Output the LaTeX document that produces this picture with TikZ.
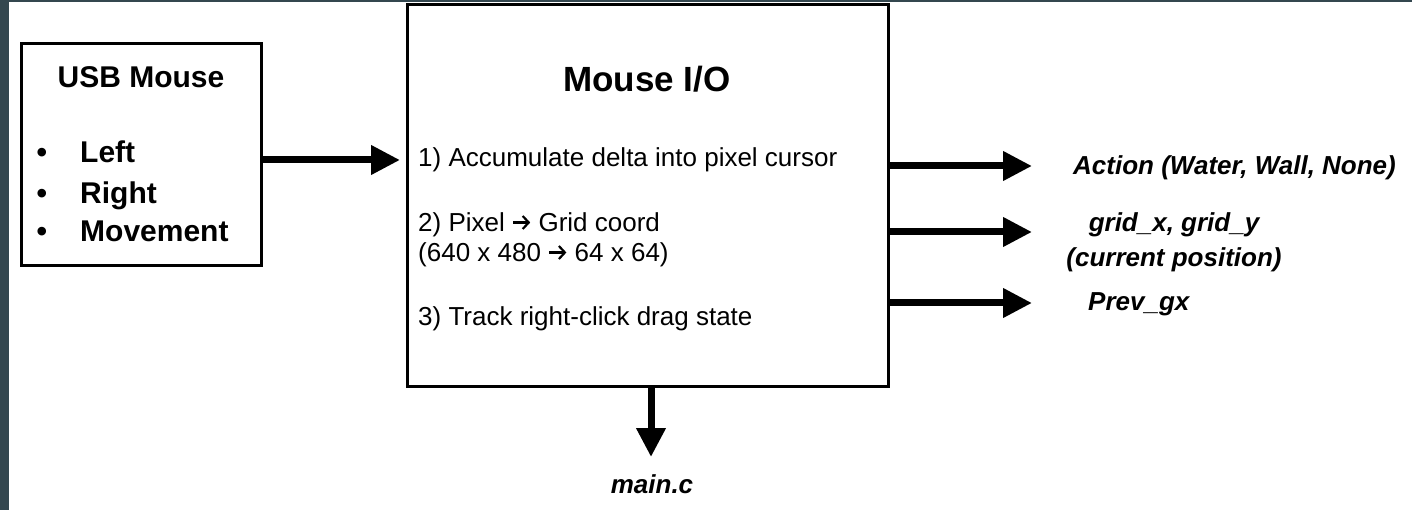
\documentclass[tikz,border=0pt]{standalone}
\usepackage{fontspec}
\setmainfont{Liberation Sans}
\usetikzlibrary{arrows.meta, positioning}
\definecolor{slate}{HTML}{34474F}
% small inline arrow used inside the step texts
\newcommand{\tto}{\tikz[baseline=-9.5pt, x=1pt, y=1pt, line width=2.2pt]
    \draw[-{Straight Barb[length=6pt, width=13pt]}] (0,0) -- (17,0);}

\begin{document}
\begin{tikzpicture}[
                x = 1pt, y = -1pt, % one unit per pixel, y runs down
                > = {Triangle[length=29pt, width=28pt]}, % arrow head style
                flow/.style = {->, line width=7pt},
                box/.style = {draw, line width=3pt, inner sep=0pt},
                heading/.style = {font=\fontsize{30}{36}\selectfont\bfseries,
                    anchor=base, inner sep=0pt},
                item/.style = {font=\fontsize{30}{36}\selectfont\bfseries,
                    anchor=base west, inner sep=0pt},
                task/.style = {font=\fontsize{26}{30}\selectfont,
                    anchor=base west, inner sep=0pt},
                signal/.style = {font=\fontsize{26}{30}\selectfont\bfseries\itshape,
                    inner sep=0pt}
                ]
                % page and dark edge
                \fill[white] (0,0) rectangle (1412,510);
                \fill[slate] (0,0) rectangle (9,510);
                \fill[slate] (0,0) rectangle (1412,2.5);
                \useasboundingbox (0,0) rectangle (1412,510);

                \node[box, minimum width=240pt, minimum height=222pt] (usb) at (141,155) {};
                \node[box, minimum width=481pt, minimum height=381pt] (mio) at (647.5,195.5) {};

                % input device
                \node[heading] (usbtitle) at (141,88) {USB Mouse};
                \foreach \name/\txt/\yy in {left/Left/163, right/Right/204, move/Movement/242} {
                    \node[item] (\name) at (80,\yy) {\txt};
                    \node[item, anchor=base] (\name-dot) at (42,\yy) {•};
                }

                % processing steps
                \node[heading, font=\fontsize{35}{40}\selectfont\bfseries] (miotitle) at (647,92) {Mouse I/O};
                \node[task] (acc) at (418,167) {1) Accumulate delta into pixel cursor};
                \node[task] (pix) at (418,232) {2) Pixel \tto{} Grid coord};
                \node[task] (res) [below=30pt of pix.base west, anchor=base west] {(640 x 480 \tto{} 64 x 64)};
                \node[task] (drag) at (418,325) {3) Track right-click drag state};

                % outputs
                \node[signal, anchor=base west] (action) at (1073,175) {Action (Water, Wall, None)};
                \node[signal, anchor=base] (grid) at (1174,232) {grid\_x, grid\_y};
                \node[signal, anchor=base] (pos) [below=35pt of grid.base, anchor=base] {(current position)};
                \node[signal, anchor=base west] (prev) at (1088,310) {Prev\_gx};
                \node[signal, anchor=base] (mainc) at (652,493) {main.c};

                \coordinate (in) at (400,160);
                \coordinate (out1) at (1032,166);
                \coordinate (out2) at (1032,232);
                \coordinate (out3) at (1032,303);
                \coordinate (down) at (651,457);

                \draw[flow] (usb.east |- in) -- (in);
                \foreach \o in {out1, out2, out3}
                    \draw[flow] (mio.east |- \o) -- (\o);
                \draw[flow] (mio.south -| down) -- (down);
\end{tikzpicture}
\end{document}
